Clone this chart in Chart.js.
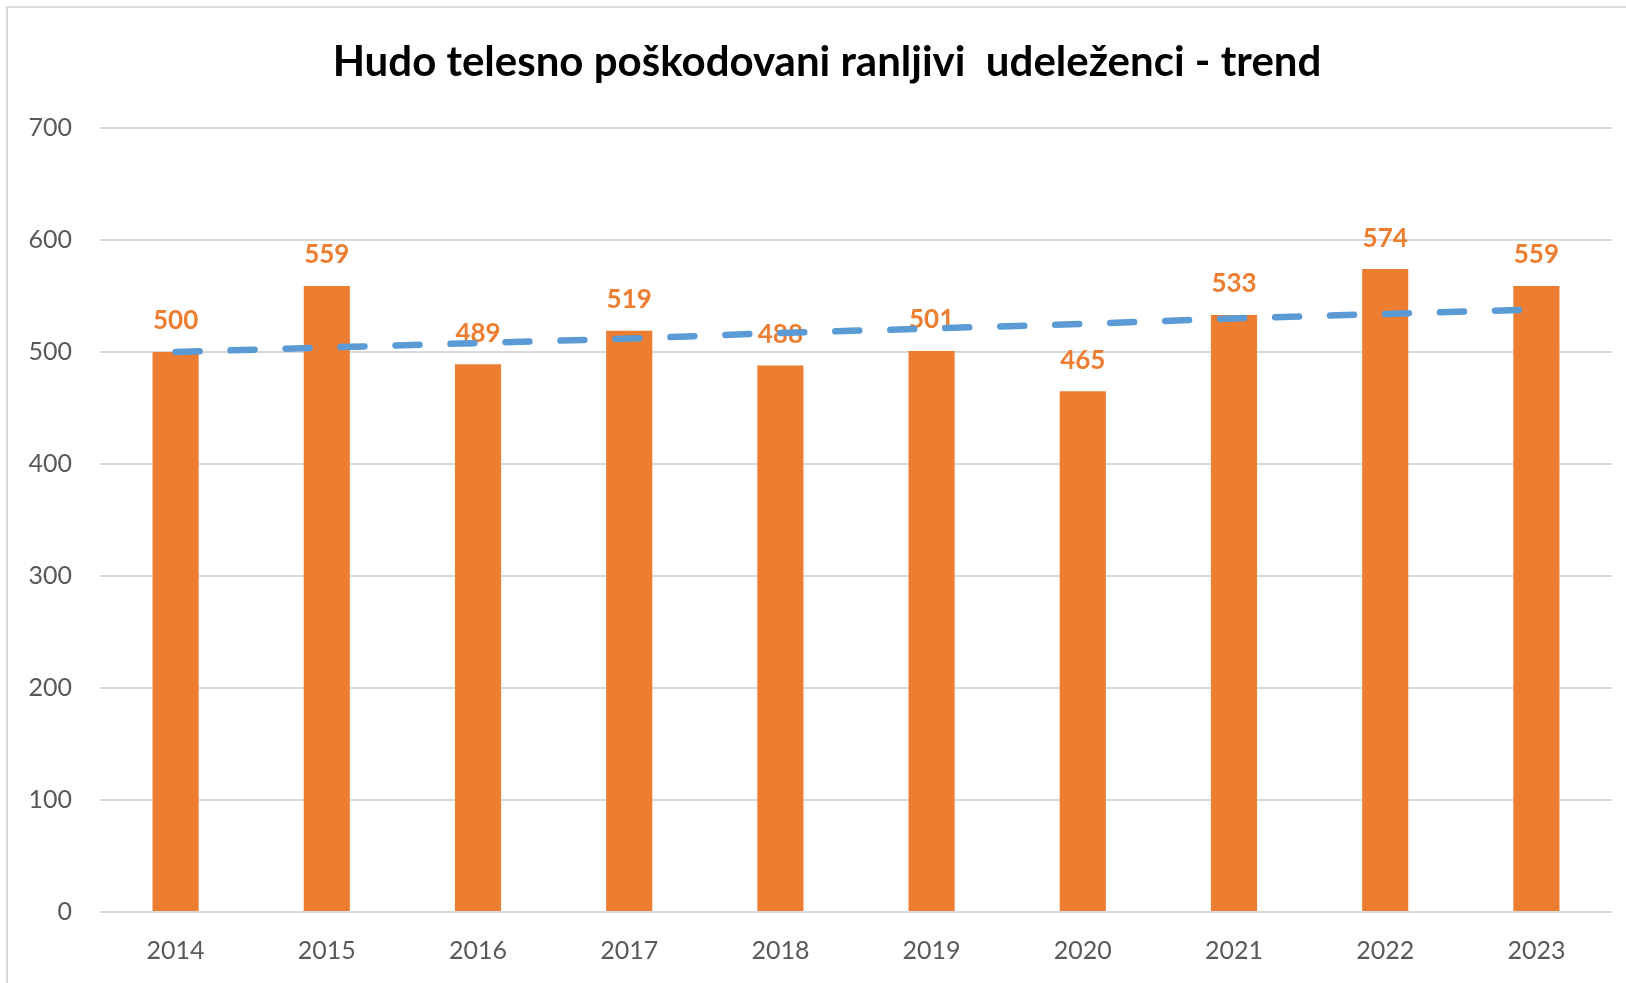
<!DOCTYPE html>
<html>
<head>
<meta charset="utf-8">
<script src="https://cdn.jsdelivr.net/npm/chart.js@4"></script>
<style>
  html, body { margin: 0; padding: 0; background: #ffffff; overflow: hidden; width: 1626px; height: 983px; }
  #frame { position: absolute; left: 6px; top: 6px; width: 1700px; height: 1100px; border: 2px solid #d9d9d9; }
  #c { position: absolute; left: 0; top: 0; }
</style>
</head>
<body>
<div id="frame"></div>
<canvas id="c" width="1626" height="983"></canvas>
<script>
const years = ['2014', '2015', '2016', '2017', '2018', '2019', '2020', '2021', '2022', '2023'];
const injured = [500, 559, 489, 519, 488, 501, 465, 533, 574, 559];
const trend = [500, 504, 508, 512, 517, 521, 525, 530, 534, 538];
const yTicks = [0, 100, 200, 300, 400, 500, 600, 700];
const titleText = 'Hudo telesno poškodovani ranljivi  udeleženci - trend';

const FONT = 'Lato, Carlito, "Open Sans", sans-serif';

const barLabels = {
  id: 'barLabels',
  afterDatasetDraw(chart, args) {
    if (args.index !== 0) return;
    const ctx = chart.ctx;
    ctx.save();
    ctx.font = 'bold 26px ' + FONT;
    ctx.fillStyle = '#ED7D31';
    ctx.textAlign = 'center';
    ctx.textBaseline = 'middle';
    args.meta.data.forEach((el, i) => {
      ctx.fillText(String(injured[i]), el.x, el.y - 31);
    });
    ctx.restore();
  }
};

const chartTitle = {
  id: 'chartTitle',
  afterDraw(chart) {
    const ctx = chart.ctx;
    ctx.save();
    ctx.font = 'bold 42px ' + FONT;
    ctx.fillStyle = '#000000';
    ctx.textAlign = 'center';
    ctx.textBaseline = 'middle';
    ctx.fillText(titleText, 827, 62);
    ctx.restore();
  }
};

new Chart(document.getElementById('c'), {
  data: {
    labels: years,
    datasets: [
      {
        type: 'bar',
        data: injured,
        backgroundColor: '#ED7D31',
        barPercentage: 0.305,
        categoryPercentage: 1.0,
        order: 1
      },
      {
        type: 'line',
        data: trend,
        borderColor: '#5B9BD5',
        borderWidth: 6.5,
        borderDash: [24, 31],
        borderCapStyle: 'round',
        pointRadius: 0,
        tension: 0,
        fill: false,
        order: 0
      }
    ]
  },
  options: {
    responsive: false,
    animation: false,
    layout: { padding: { left: 0, right: 14, top: 128, bottom: 0 } },
    plugins: {
      legend: { display: false },
      tooltip: { enabled: false },
      title: { display: false }
    },
    scales: {
      x: {
        grid: { display: false, drawTicks: false },
        border: { display: false },
        ticks: { color: '#595959', font: { family: FONT, size: 25 }, padding: 24 },
        afterFit(scale) { scale.height = 71; }
      },
      y: {
        min: 0,
        max: 700,
        afterBuildTicks(scale) { scale.ticks = yTicks.map(v => ({ value: v })); },
        grid: { color: '#d9d9d9', lineWidth: 2, drawTicks: false },
        border: { display: false },
        ticks: { color: '#595959', font: { family: FONT, size: 25 }, padding: 28 },
        afterFit(scale) { scale.width = 100; }
      }
    }
  },
  plugins: [barLabels, chartTitle]
});
</script>
</body>
</html>
